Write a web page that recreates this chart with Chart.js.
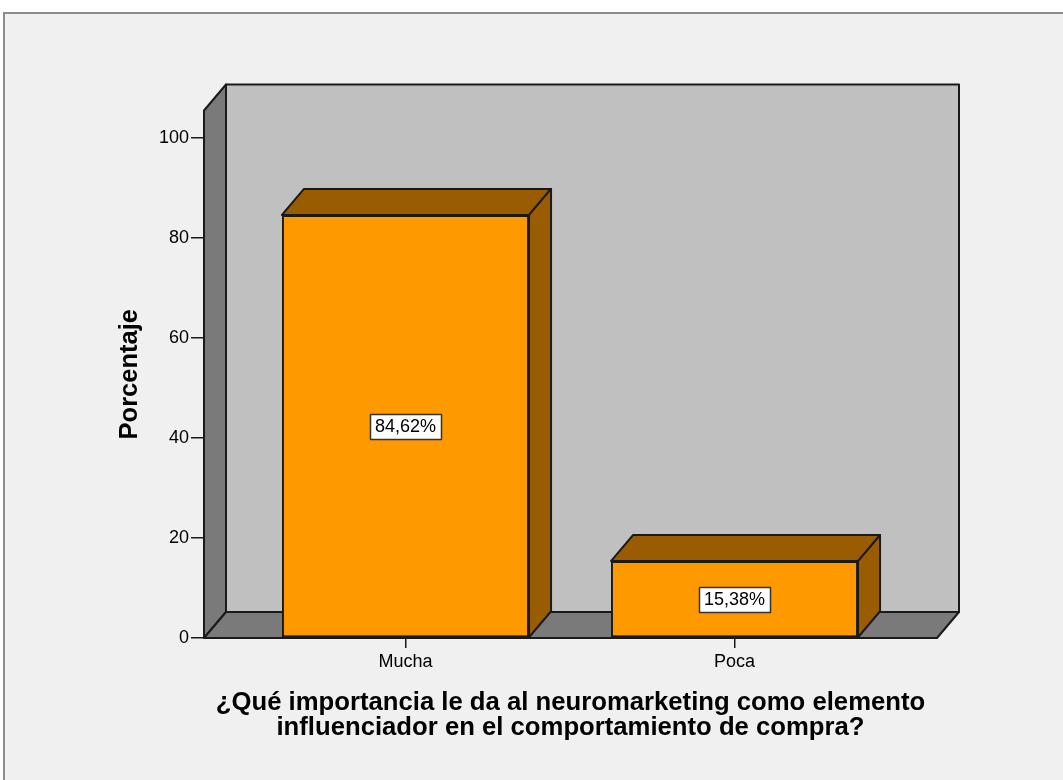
<!DOCTYPE html>
<html>
<head>
<meta charset="utf-8">
<script src="https://cdn.jsdelivr.net/npm/chart.js@4"></script>
<style>
  html, body { margin: 0; padding: 0; background: #ffffff; }
  #wrap { width: 1063px; height: 780px; position: relative; }
  canvas { display: block; }
</style>
</head>
<body>
<div id="wrap"><canvas id="c" width="1063" height="780"></canvas></div>
<script>
// ---- data ----
const categories = ['Mucha', 'Poca'];
const percentages = [84.62, 15.38];
const yTicks = [0, 20, 40, 60, 80, 100];
const xTitleLines = ['¿Qué importancia le da al neuromarketing como elemento', 'influenciador en el comportamiento de compra?'];
const yTitle = 'Porcentaje';

// ---- style constants ----
const DEPTH_X = 22, DEPTH_Y = -26;
const FONT = '"Liberation Sans", Arial, sans-serif';

const framePlugin = {
  id: 'frame3d',
  beforeDraw(chart) {
    const ctx = chart.ctx;
    const {left, right, top, bottom} = chart.chartArea;
    ctx.save();
    ctx.fillStyle = '#ffffff';
    ctx.fillRect(0, 0, chart.width, chart.height);
    ctx.fillStyle = '#f0f0f0';
    ctx.fillRect(4, 13, chart.width - 4, chart.height - 13);
    ctx.strokeStyle = '#8c8c8c';
    ctx.lineWidth = 2;
    ctx.beginPath();
    ctx.moveTo(4, chart.height);
    ctx.lineTo(4, 13);
    ctx.lineTo(chart.width, 13);
    ctx.stroke();

    ctx.lineJoin = 'round';
    ctx.strokeStyle = '#1a1a1a';
    ctx.lineWidth = 2;
    // back wall
    ctx.fillStyle = '#c0c0c0';
    ctx.beginPath();
    ctx.rect(left + DEPTH_X, top + DEPTH_Y, right - left, bottom - top);
    ctx.fill(); ctx.stroke();
    // left wall
    ctx.fillStyle = '#7a7a7a';
    ctx.beginPath();
    ctx.moveTo(left, bottom);
    ctx.lineTo(left, top);
    ctx.lineTo(left + DEPTH_X, top + DEPTH_Y);
    ctx.lineTo(left + DEPTH_X, bottom + DEPTH_Y);
    ctx.closePath();
    ctx.fill(); ctx.stroke();
    // floor
    ctx.beginPath();
    ctx.moveTo(left, bottom);
    ctx.lineTo(left + DEPTH_X, bottom + DEPTH_Y);
    ctx.lineTo(right + DEPTH_X, bottom + DEPTH_Y);
    ctx.lineTo(right, bottom);
    ctx.closePath();
    ctx.fill(); ctx.stroke();
    ctx.restore();
  },
  afterDatasetsDraw(chart) {
    const ctx = chart.ctx;
    const meta = chart.getDatasetMeta(0);
    ctx.save();
    ctx.lineJoin = 'round';
    ctx.strokeStyle = '#1a1a1a';
    ctx.lineWidth = 2;
    meta.data.forEach((bar) => {
      const {x, y, base, width} = bar.getProps(['x', 'y', 'base', 'width'], true);
      const l = x - width / 2, r = x + width / 2;
      ctx.fillStyle = '#9a5c00';
      // top face
      ctx.beginPath();
      ctx.moveTo(l, y);
      ctx.lineTo(l + DEPTH_X, y + DEPTH_Y);
      ctx.lineTo(r + DEPTH_X, y + DEPTH_Y);
      ctx.lineTo(r, y);
      ctx.closePath();
      ctx.fill(); ctx.stroke();
      // side face
      ctx.beginPath();
      ctx.moveTo(r, y);
      ctx.lineTo(r + DEPTH_X, y + DEPTH_Y);
      ctx.lineTo(r + DEPTH_X, base + DEPTH_Y);
      ctx.lineTo(r, base);
      ctx.closePath();
      ctx.fill(); ctx.stroke();
    });
    // value labels
    ctx.font = '18px ' + FONT;
    ctx.textAlign = 'center';
    ctx.textBaseline = 'middle';
    meta.data.forEach((bar, i) => {
      const {x, y, base} = bar.getProps(['x', 'y', 'base'], true);
      const txt = percentages[i].toFixed(2).replace('.', ',') + '%';
      const w = ctx.measureText(txt).width + 10;
      const h = 25;
      const cy = (y + base) / 2;
      ctx.fillStyle = '#ffffff';
      ctx.fillRect(Math.round(x - w / 2) + 0.5, Math.round(cy - h / 2) + 0.5, Math.round(w), h);
      ctx.strokeStyle = '#333333';
      ctx.lineWidth = 1.5;
      ctx.strokeRect(Math.round(x - w / 2) + 0.5, Math.round(cy - h / 2) + 0.5, Math.round(w), h);
      ctx.fillStyle = '#000000';
      ctx.fillText(txt, x, cy + 1);
    });
    ctx.restore();
  }
};

new Chart(document.getElementById('c'), {
  type: 'bar',
  data: {
    datasets: [{
      data: categories.map((c, i) => ({x: i, y: percentages[i]})),
      backgroundColor: '#ff9900',
      borderColor: '#1a1a1a',
      borderWidth: 2,
      borderSkipped: false,
      categoryPercentage: 0.751,
      barPercentage: 1.0
    }]
  },
  options: {
    responsive: false,
    animation: false,
    events: [],
    layout: { padding: { left: 117.5, right: 126, top: 110.5, bottom: 40 } },
    plugins: { legend: { display: false }, tooltip: { enabled: false } },
    scales: {
      x: {
        type: 'linear',
        min: -0.6125,
        max: 1.6155,
        offset: false,
        afterBuildTicks(scale) { scale.ticks = categories.map((c, i) => ({value: i})); },
        afterFit(scale) { scale.height = 102; },
        border: { display: false },
        grid: { display: true, offset: false, drawOnChartArea: false, drawTicks: true, tickLength: 10, color: '#1a1a1a', lineWidth: 1.5 },
        ticks: {
          autoSkip: false, maxRotation: 0, padding: 3,
          color: '#000000',
          font: { family: FONT, size: 18 },
          callback: (v) => categories[v] ?? ''
        },
        title: {
          display: true,
          text: xTitleLines,
          color: '#000000',
          padding: { top: 0, bottom: 0 },
          font: { family: FONT, size: 25.7, weight: 'bold', lineHeight: 0.96 }
        }
      },
      y: {
        min: 0,
        max: 105.5,
        afterBuildTicks(scale) { scale.ticks = yTicks.map(v => ({value: v})); },
        afterFit(scale) { scale.width = 86.5; },
        border: { display: false },
        grid: { display: true, drawOnChartArea: false, drawTicks: true, tickLength: 13, color: '#1a1a1a', lineWidth: 1.5 },
        ticks: {
          padding: 2,
          color: '#000000',
          font: { family: FONT, size: 18 }
        },
        title: {
          display: true,
          text: yTitle,
          color: '#000000',
          padding: { top: 0, bottom: 0 },
          font: { family: FONT, size: 25.5, weight: 'bold', lineHeight: 1.0 }
        }
      }
    }
  },
  plugins: [framePlugin]
});
</script>
</body>
</html>
